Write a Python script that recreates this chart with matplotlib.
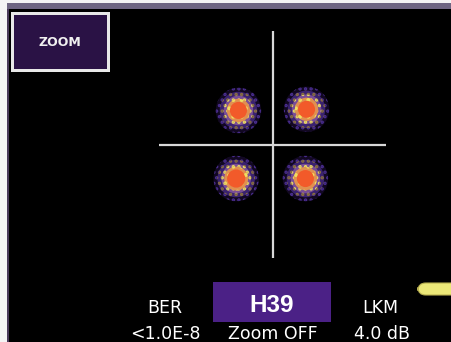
import matplotlib
matplotlib.use("Agg")
import matplotlib.pyplot as plt
from matplotlib.patches import Circle, Rectangle, FancyBboxPatch

plt.rcParams["hatch.linewidth"] = 1.6

# ---- data ----
cluster_i = [-0.30, 0.30, -0.32, 0.29]      # in-phase centres
cluster_q = [0.30, 0.31, -0.30, -0.30]      # quadrature centres
spread_outer = [0.20, 0.20, 0.20, 0.20]     # purple halo extent
spread_mid = [0.13, 0.13, 0.13, 0.13]       # yellow ring extent
spread_core = [0.075, 0.075, 0.08, 0.075]   # orange core extent
ber_label = "BER"
ber_value = "<1.0E-8"
channel = "H39"
zoom_state = "Zoom OFF"
lkm_label = "LKM"
lkm_value = "4.0 dB"
button_label = "ZOOM"

W, H = 451, 342
fig = plt.figure(figsize=(W / 100, H / 100), dpi=100)
fig.patch.set_facecolor("black")

def fx(x):
    return x / W

def fy(y):
    return 1 - y / H

def frect(x0, y0, x1, y1, **kw):
    r = Rectangle((fx(x0), fy(y1)), fx(x1) - fx(x0), fy(y0) - fy(y1),
                  transform=fig.transFigure, **kw)
    fig.add_artist(r)
    return r

# frame elements
frect(0, 0, W, 3, facecolor="#f4f4f4", edgecolor="none")
frect(0, 0, 7, H, facecolor="#f4f4f4", edgecolor="none")
frect(7, 3, W, 9, facecolor="#6e6582", edgecolor="none")
frect(7, 9, 8.5, H, facecolor="#4a3a5a", edgecolor="none")

# ZOOM button
frect(11, 12, 110, 72, facecolor="#e8e8e8", edgecolor="none")
frect(14, 15, 107, 69, facecolor="#2a1245", edgecolor="none")
fig.text(fx(60), fy(43), button_label, color="#f0f0f0", fontsize=9,
         fontweight="bold", ha="center", va="center", family="DejaVu Sans")

# constellation axes
ax = fig.add_axes([fx(159), fy(258), fx(386) - fx(159), fy(31) - fy(258)])
ax.set_facecolor("black")
ax.set_xlim(-1, 1)
ax.set_ylim(-1, 1)
ax.axis("off")
ax.axhline(0, color="#d8d8d8", lw=1.6)
ax.axvline(0, color="#d8d8d8", lw=1.6)

for i, q, r0, r1, r2 in zip(cluster_i, cluster_q, spread_outer, spread_mid, spread_core):
    ax.add_patch(Circle((i, q), r0, facecolor="#120822", edgecolor="#4a2e90",
                        hatch="...", lw=0))
    ax.add_patch(Circle((i, q), (r0 + r1) / 2, facecolor="#3a2270", edgecolor="#8a7040",
                        hatch="...", lw=0))
    ax.add_patch(Circle((i, q), r1, facecolor="#7a4e96", edgecolor="#e8dc60",
                        hatch="...", lw=0))
    ax.add_patch(Circle((i, q), (r1 + r2) / 2, facecolor="#e09050", edgecolor="#f0e060",
                        hatch="..", lw=0))
    ax.add_patch(Circle((i, q), r2, facecolor="#f25a2a", edgecolor="none"))

# bottom status area
frect(213, 282, 331, 322, facecolor="#4b2186", edgecolor="none")
fig.text(fx(272), fy(312), channel, color="white", fontsize=17.5, fontweight="bold",
         ha="center", va="baseline", family="Liberation Sans")
fig.text(fx(273), fy(339), zoom_state, color="white", fontsize=12.5,
         ha="center", va="baseline", family="DejaVu Sans")
fig.text(fx(165), fy(313), ber_label, color="white", fontsize=12.5,
         ha="center", va="baseline", family="DejaVu Sans")
fig.text(fx(165), fy(339), ber_value, color="white", fontsize=12.5,
         ha="center", va="baseline", family="DejaVu Sans")
fig.text(fx(380), fy(313), lkm_label, color="white", fontsize=12.5,
         ha="center", va="baseline", family="DejaVu Sans")
fig.text(fx(382), fy(339), lkm_value, color="white", fontsize=12.5,
         ha="center", va="baseline", family="DejaVu Sans")

pill = FancyBboxPatch((fx(418), fy(295)), fx(470) - fx(418), fy(283) - fy(295),
                      boxstyle="round,pad=0,rounding_size=0.017",
                      transform=fig.transFigure, facecolor="#ece878",
                      edgecolor="#b8b050", lw=0.8, mutation_aspect=W / H)
fig.add_artist(pill)

fig.savefig("out.png", dpi=100, facecolor=fig.get_facecolor())
